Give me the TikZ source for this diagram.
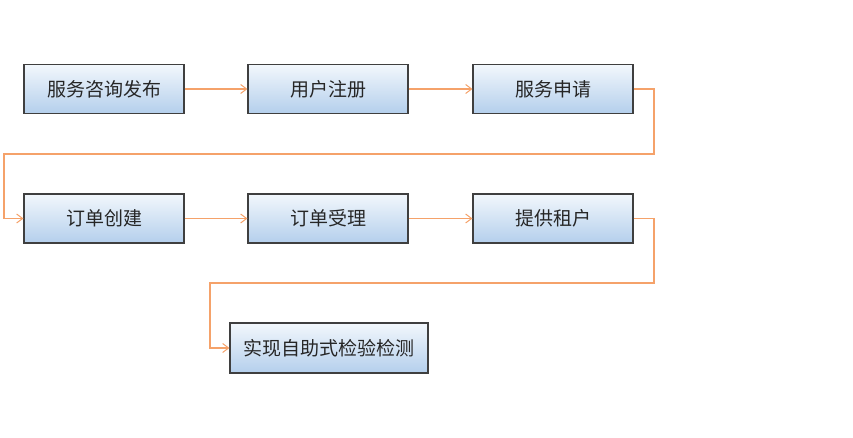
\documentclass[tikz,border=0pt]{standalone}
\usepackage{fontspec}
\newfontfamily\cjk{Noto Sans CJK SC}
\usetikzlibrary{arrows.meta}
\definecolor{linkc}{HTML}{F5A26A}
\definecolor{boxtop}{HTML}{F2F7FC}
\definecolor{boxbot}{HTML}{B4CFEC}
\definecolor{boxedge}{HTML}{3F3F3F}
\tikzset{
  proc/.style={draw=boxedge, line width=1.1pt, top color=boxtop, bottom color=boxbot,
    minimum height=49pt, inner sep=0pt, font=\cjk\fontsize{19}{19}\selectfont, text=black!85},
  link/.style={draw=linkc, line width=1.1pt, -{Straight Barb[length=6pt,width=9pt,line width=1pt]}}
}
\begin{document}
\begin{tikzpicture}[x=1pt,y=-1pt]
\useasboundingbox (0,0) rectangle (853,438);
\node[proc, minimum width=160pt] (a) at (104,89) {服务咨询发布};
\node[proc, minimum width=160pt] (b) at (328,89) {用户注册};
\node[proc, minimum width=160pt] (c) at (553,89) {服务申请};
\node[proc, minimum width=160pt] (d) at (104,218.5) {订单创建};
\node[proc, minimum width=160pt] (e) at (328,218.5) {订单受理};
\node[proc, minimum width=160pt] (f) at (553,218.5) {提供租户};
\node[proc, minimum width=198pt, minimum height=50pt] (g) at (329,348) {实现自助式检验检测};
\coordinate (c1) at (654,154);
\coordinate (c2) at (4,154);
\coordinate (f1) at (654,283);
\coordinate (f2) at (210,283);
\draw[link] (a) -- (b);
\draw[link] (b) -- (c);
\draw[link] (c.east) -| (c1) -- (c2) |- (d.west);
\draw[link] (d) -- (e);
\draw[link] (e) -- (f);
\draw[link] (f.east) -| (f1) -- (f2) |- (g.west);
\end{tikzpicture}
\end{document}
